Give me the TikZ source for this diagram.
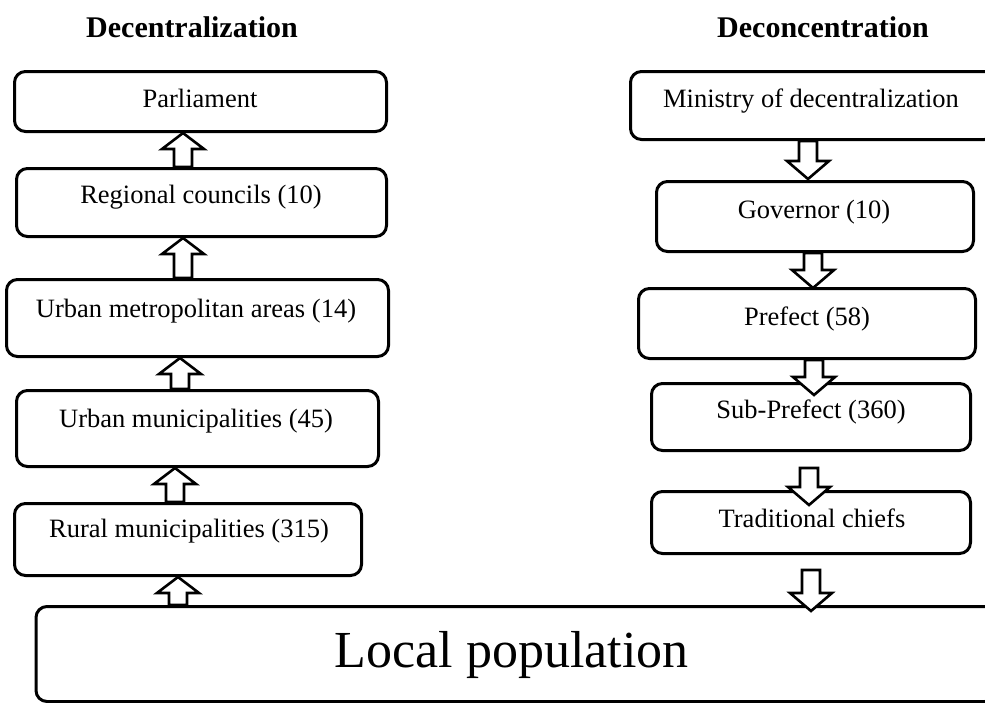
\documentclass[tikz,border=0pt]{standalone}
\usepackage{fontspec}
\setmainfont{LiberationSerif}[Extension=.ttf, UprightFont=*-Regular, BoldFont=*-Bold, ItalicFont=*-Italic, BoldItalicFont=*-BoldItalic]
\usetikzlibrary{calc}
\tikzset{
  box/.style={draw, line width=3pt, rounded corners=11pt, inner sep=0pt, fill=white},
  txt/.style={inner sep=0pt, anchor=base, font=\rmfamily\fontsize{26.5}{30}\selectfont},
  ttl/.style={inner sep=0pt, anchor=base, font=\rmfamily\fontsize{30}{34}\selectfont\bfseries},
  blk/.style={draw, line width=2.6pt, fill=white, line join=miter, miter limit=10},
  blkup/.style={to path={let \p1=(\tikztostart), \p2=(\tikztotarget) in
    ({\x1-9pt},\y1) -- ({\x1-9pt},{\y2-16pt}) -- ({\x1-21pt},{\y2-16pt}) -- (\x1,\y2)
    -- ({\x1+21pt},{\y2-16pt}) -- ({\x1+9pt},{\y2-16pt}) -- ({\x1+9pt},\y1) -- cycle}},
  blkdown/.style={to path={let \p1=(\tikztostart), \p2=(\tikztotarget) in
    ({\x1-9pt},\y1) -- ({\x1-9pt},{\y2+18pt}) -- ({\x1-21pt},{\y2+18pt}) -- (\x1,\y2)
    -- ({\x1+21pt},{\y2+18pt}) -- ({\x1+9pt},{\y2+18pt}) -- ({\x1+9pt},\y1) -- cycle}}
}
\begin{document}
\begin{tikzpicture}[x=1pt,y=-1pt]
\useasboundingbox (0,0) rectangle (985,702);
\clip (0,0) rectangle (985,702);
% titles
\node[ttl] (t1) at (192,37) {Decentralization};
\node[ttl] (t2) at (823,37) {Deconcentration};
% left column boxes
\node[box, minimum width=372pt, minimum height=60pt] (parl) at (200.5,101.5) {};
\node[box, minimum width=370pt, minimum height=68pt] (reg) at (201.5,202.5) {};
\node[box, minimum width=382pt, minimum height=77pt] (metro) at (197.5,318) {};
\node[box, minimum width=362pt, minimum height=76pt] (umun) at (197.5,428.5) {};
\node[box, minimum width=347pt, minimum height=72pt] (rural) at (188,539.5) {};
% local population
\node[box, minimum width=960pt, minimum height=95pt] (local) at (516,654) {};
% right column boxes
\node[box, minimum width=365pt, minimum height=68pt] (mini) at (813,105.5) {};
\node[box, minimum width=317pt, minimum height=70pt] (gov) at (815,216.5) {};
\node[box, minimum width=337pt, minimum height=70pt] (pref) at (807,323.5) {};
\node[box, minimum width=319pt, minimum height=67pt] (sub) at (811,417) {};
\node[box, minimum width=319pt, minimum height=62pt] (chief) at (811,522.5) {};
% texts
\node[txt] (parlt) at (200,107) {Parliament};
\node[txt] (regt) at (201,203) {Regional councils (10)};
\node[txt] (metrot) at (196,317) {Urban metropolitan areas (14)};
\node[txt] (umunt) at (196,427) {Urban municipalities (45)};
\node[txt] (ruralt) at (189,537) {Rural municipalities (315)};
\node[txt] (minit) at (811,107) {Ministry of decentralization};
\node[txt] (govt) at (814,218) {Governor (10)};
\node[txt] (preft) at (807,325) {Prefect (58)};
\node[txt] (subt) at (811,418) {Sub-Prefect (360)};
\node[txt] (chieft) at (812,527) {Traditional chiefs};
\node[inner sep=0pt, anchor=base, font=\rmfamily\fontsize{52}{60}\selectfont] (localt) at (511.5,667) {Local population};
% left arrows (upwards)
\draw[blk, blkup] ([xshift=-18.5pt]reg.north) to (parl.south);
\draw[blk, blkup] ([xshift=-14.5pt]metro.north) to (reg.south);
\draw[blk, blkup] ([xshift=-17.5pt]umun.north) to (metro.south);
\draw[blk, blkup] ([xshift=-13pt]rural.north) to (umun.south);
\draw[blk, blkup] ([xshift=-338pt]local.north) to (rural.south);
% right arrows (downwards)
\draw[blk, blkdown] ([xshift=-5pt]mini.south) to ([yshift=1pt]gov.north);
\draw[blk, blkdown] ([xshift=-2pt]gov.south) to ([yshift=-1pt]pref.north);
\draw[blk, blkdown] ([xshift=7pt]pref.south) to ([yshift=-13pt]sub.north);
\draw[blk, blkdown] ([xshift=-2pt,yshift=-16pt]sub.south) to ([yshift=-15pt]chief.north);
\draw[blk, blkdown] ([yshift=-15pt]chief.south) to ([yshift=-6pt]local.north);
\end{tikzpicture}
\end{document}
